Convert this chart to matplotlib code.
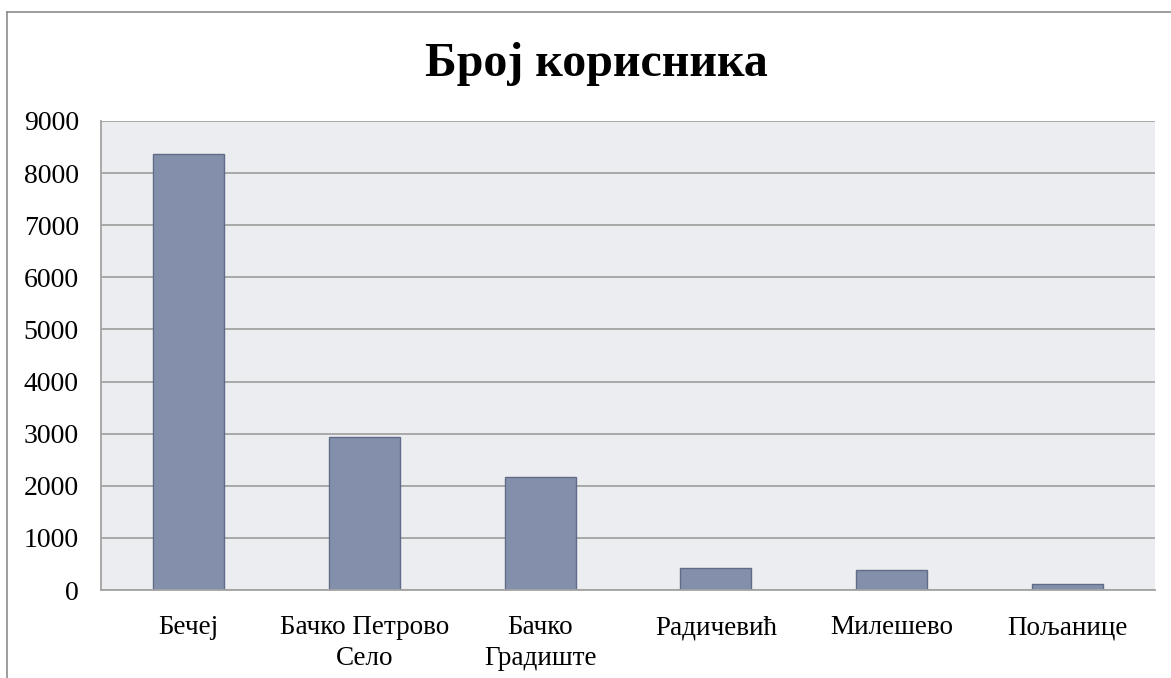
import matplotlib
matplotlib.use("Agg")
import matplotlib.pyplot as plt
from matplotlib.lines import Line2D

categories = ["Бечеј", "Бачко Петрово\nСело", "Бачко\nГрадиште", "Радичевић", "Милешево", "Пољанице"]
values = [8370, 2935, 2168, 416, 390, 122]
yticks = [0, 1000, 2000, 3000, 4000, 5000, 6000, 7000, 8000, 9000]
title = "Број корисника"

plt.rcParams['font.family'] = ['Liberation Serif', 'DejaVu Serif']

W, H = 1171, 678
fig = plt.figure(figsize=(W / 100, H / 100), dpi=100)
fig.patch.set_facecolor("white")

L, R, T, B = 101, 1155, 121, 590
ax = fig.add_axes([L / W, 1 - B / H, (R - L) / W, (B - T) / H])
ax.set_facecolor("#ECEDF1")

x = list(range(len(categories)))
ax.bar(x, values, width=0.405, color="#8490AB", edgecolor="#5F6C88", linewidth=1.0, zorder=3)

ax.set_xlim(-0.5, len(categories) - 0.5)
ax.set_ylim(0, 9000)
ax.set_yticks(yticks)
ax.set_yticklabels([str(v) for v in yticks], fontsize=20)
ax.set_xticks(x)
ax.set_xticklabels(categories, fontsize=19.5, linespacing=1.33, va="top")
ax.tick_params(axis="both", length=0)
ax.tick_params(axis="y", pad=16)
ax.tick_params(axis="x", pad=18)
ax.yaxis.grid(True, color="#A3A3A3", linewidth=1.3, zorder=1)
ax.set_axisbelow(True)
for s in ["top", "right"]:
    ax.spines[s].set_visible(False)
ax.spines["left"].set_color("#A3A3A3")
ax.spines["left"].set_linewidth(1.3)
ax.spines["bottom"].set_color("#A3A3A3")
ax.spines["bottom"].set_linewidth(1.3)
ax.spines["bottom"].set_zorder(4)

fig.text(596 / W, 1 - 64 / H, title, ha="center", va="center", fontsize=34.5, fontweight="bold")

# outer chart border (top and left)
fig.add_artist(Line2D([7 / W, 1.0], [1 - 12 / H, 1 - 12 / H], color="#8C8C8C", linewidth=1.2, transform=fig.transFigure))
fig.add_artist(Line2D([7 / W, 7 / W], [1 - 12 / H, 0.0], color="#8C8C8C", linewidth=1.2, transform=fig.transFigure))

fig.savefig("out.png", dpi=100)
